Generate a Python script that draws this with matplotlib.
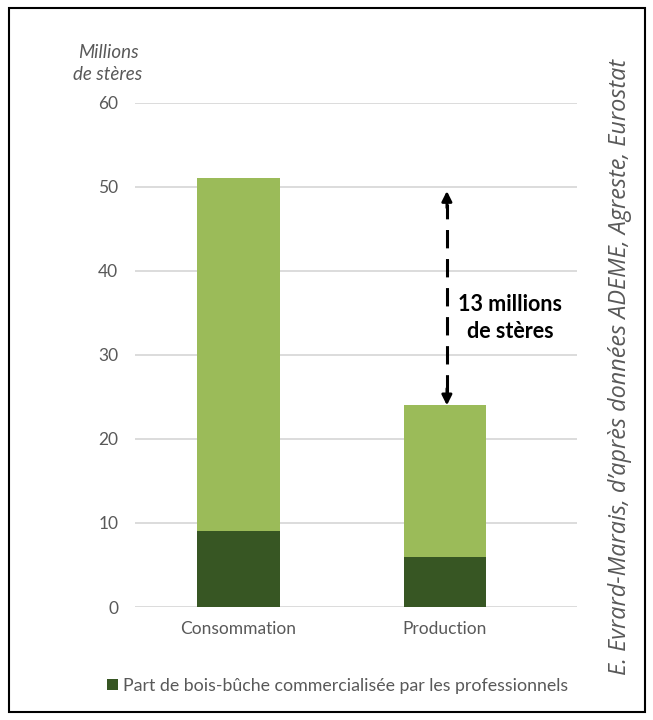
import matplotlib.pyplot as plt
from matplotlib.patches import Rectangle

# data
categories = ["Consommation", "Production"]
totals = [51, 24]            # millions de stères
professionnels = [9, 6]      # part commercialisée par les professionnels
yticks = [0, 10, 20, 30, 40, 50, 60]
ecart_bas, ecart_haut = 24, 49.5

light = "#9BBB59"
dark = "#375623"
grey = "#595959"

plt.rcParams['font.family'] = ['Lato', 'DejaVu Sans']

fig = plt.figure(figsize=(6.53, 7.2), dpi=100)
ax = fig.add_axes([135/653, 1-607/720, 442/653, (607-102.8)/720])

x = list(range(len(categories)))
reste = [t - p for t, p in zip(totals, professionnels)]
ax.bar(x, professionnels, width=0.4, color=dark, zorder=3,
       label="Part de bois-bûche commercialisée par les professionnels")
ax.bar(x, reste, bottom=professionnels, width=0.4, color=light, zorder=3)

ax.set_xlim(-0.5, 1.64)
ax.set_ylim(0, 60)
ax.set_yticks(yticks)
ax.set_xticks(x)
ax.set_xticklabels(categories)
ax.grid(axis='y', color='#D9D9D9', linewidth=1.3, zorder=0)
for s in ax.spines.values():
    s.set_visible(False)
ax.tick_params(axis='both', length=0, colors=grey, labelsize=12.5)
ax.tick_params(axis='y', pad=12)
ax.tick_params(axis='x', pad=10)

# y unit label
fig.text(108/653, 1-52/720, "Millions", ha='center', va='center',
         style='italic', color=grey, fontsize=13.5)
fig.text(108/653, 1-75/720, "de stères", ha='center', va='center',
         style='italic', color=grey, fontsize=13.5)

# double arrow for the gap
ax_x = 1.01
ax.plot([ax_x, ax_x], [ecart_bas + 1.5, ecart_haut - 1.5], color='black',
        linewidth=2.2, linestyle=(0, (6, 3.5)), zorder=4)
ax.annotate("", xy=(ax_x, ecart_haut), xytext=(ax_x, ecart_haut - 2),
            arrowprops=dict(arrowstyle='-|>', color='black', lw=2,
                            mutation_scale=15, shrinkA=0, shrinkB=0), zorder=5)
ax.annotate("", xy=(ax_x, ecart_bas), xytext=(ax_x, ecart_bas + 2),
            arrowprops=dict(arrowstyle='-|>', color='black', lw=2,
                            mutation_scale=15, shrinkA=0, shrinkB=0), zorder=5)
ax.text(1.315, 34.4, "13 millions\nde stères", ha='center', va='center',
        fontweight='bold', fontsize=15.5, linespacing=1.35, color='black')

# legend
ax.legend(loc='center', bbox_to_anchor=(338/653, 1-686/720),
          bbox_transform=fig.transFigure, frameon=False, fontsize=12.8,
          handlelength=0.6, handleheight=0.6, handletextpad=0.3,
          labelcolor=grey)

# source
fig.text(620/653, 1-367/720,
         "E. Evrard-Marais, d’après données ADEME, Agreste, Eurostat",
         rotation=90, ha='center', va='center', style='italic',
         color=grey, fontsize=16.8, family=['Open Sans', 'DejaVu Sans'])

# frame
fig.patches.append(Rectangle((9/653, 1-712/720), 636/653, 704/720,
                             transform=fig.transFigure, fill=False,
                             edgecolor='black', linewidth=1.5))

plt.savefig("out.png", dpi=100)
